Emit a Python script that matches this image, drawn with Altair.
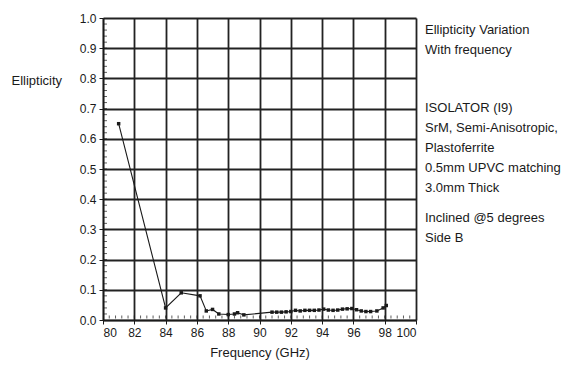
import altair as alt
import pandas as pd

freq = [81.0, 84.0, 85.0, 86.2, 86.6, 87.0, 87.4, 88.0, 88.4, 88.6, 89.0,
        90.8, 91.1, 91.4, 91.7, 92.0, 92.3, 92.6, 92.9, 93.2, 93.5, 93.8, 94.1,
        94.4, 94.7, 95.0, 95.3, 95.6, 95.9, 96.2, 96.5, 96.8, 97.1, 97.5, 97.9, 98.1]
ellipticity = [0.65, 0.04, 0.09, 0.08, 0.03, 0.035, 0.02, 0.018, 0.02, 0.024, 0.017,
               0.026, 0.026, 0.026, 0.027, 0.028, 0.032, 0.030, 0.032, 0.032, 0.032, 0.033, 0.036,
               0.033, 0.032, 0.033, 0.036, 0.037, 0.038, 0.034, 0.030, 0.028, 0.028, 0.030, 0.040, 0.048]

x_ticks = [80, 82, 84, 86, 88, 90, 92, 94, 96, 98, 100]
y_ticks = [0.0, 0.1, 0.2, 0.3, 0.4, 0.5, 0.6, 0.7, 0.8, 0.9, 1.0]
y_minor = [round(i * 0.02, 2) for i in range(1, 50)]
x_minor = [round(80 + i * 0.4, 1) for i in range(1, 50)]

notes_1 = ["Ellipticity Variation", "With frequency"]
notes_2 = ["ISOLATOR (I9)", "SrM, Semi-Anisotropic,", "Plastoferrite",
           "0.5mm UPVC matching", "3.0mm Thick"]
notes_3 = ["Inclined @5 degrees", "Side B"]

FONT = "Liberation Sans, Arial"
INK = "#1a1a1a"
FS = 13
LFS = 12

df = pd.DataFrame({"f": freq, "e": ellipticity})

x_scale = alt.Scale(domain=[80, 100], nice=False, zero=False)
y_scale = alt.Scale(domain=[0, 1], nice=False)

x_axis = alt.Axis(values=x_ticks, title="Frequency (GHz)", format="d",
                  labelOverlap=False,
                  grid=True, gridColor="#222", gridWidth=1.8,
                  domainColor=INK, domainWidth=1.5, tickColor=INK, tickSize=4,
                  labelFont=FONT, labelFontSize=LFS, labelColor=INK, labelPadding=3,
                  titleFont=FONT, titleFontSize=FS, titleFontWeight="normal",
                  titleColor=INK, titlePadding=8)
y_axis = alt.Axis(values=y_ticks, title="Ellipticity", format=".1f",
                  labelOverlap=False,
                  grid=True, gridColor="#222", gridWidth=1.8,
                  domainColor=INK, domainWidth=1.5, tickColor=INK, tickSize=4,
                  labelFont=FONT, labelFontSize=LFS, labelColor=INK, labelPadding=3,
                  titleFont=FONT, titleFontSize=FS, titleFontWeight="normal",
                  titleColor=INK, titleAngle=0, titleAlign="left",
                  titleBaseline="middle", titleX=-92, titleY=62)

def X(field):
    return alt.X(field, scale=x_scale, axis=x_axis)

def Y(field):
    return alt.Y(field, scale=y_scale, axis=y_axis)

line = alt.Chart(df).mark_line(color=INK, strokeWidth=1.1).encode(x=X("f:Q"), y=Y("e:Q"))
pts = alt.Chart(df).mark_square(color=INK, size=12, opacity=1).encode(x=X("f:Q"), y=Y("e:Q"))

ymin = alt.Chart(pd.DataFrame({"v": y_minor})).mark_tick(
    color=INK, orient="horizontal", size=4, thickness=1).encode(
    x=alt.value(2), y=Y("v:Q"))
xmin = alt.Chart(pd.DataFrame({"v": x_minor})).mark_tick(
    color=INK, orient="vertical", size=3, thickness=1).encode(
    y=alt.value(299), x=X("v:Q"))

def notes(lines, y0):
    return alt.Chart(pd.DataFrame({"t": ["\n".join(lines)]})).mark_text(
        align="left", baseline="middle", font=FONT, fontSize=FS, color=INK,
        lineBreak="\n", lineHeight=20).encode(
        x=alt.value(322), y=alt.value(y0), text="t:N")

chart = alt.layer(line, ymin, xmin, pts,
                  notes(notes_1, 12), notes(notes_2, 90), notes(notes_3, 200)).properties(
    width=313, height=302,
    autosize=alt.AutoSizeParams(type="none"),
    padding={"left": 103, "top": 18, "right": 149, "bottom": 47},
).configure_view(stroke=INK, strokeWidth=1.5).configure(background="white")

chart.save("out.html", embed_options={"renderer": "svg", "actions": False})
